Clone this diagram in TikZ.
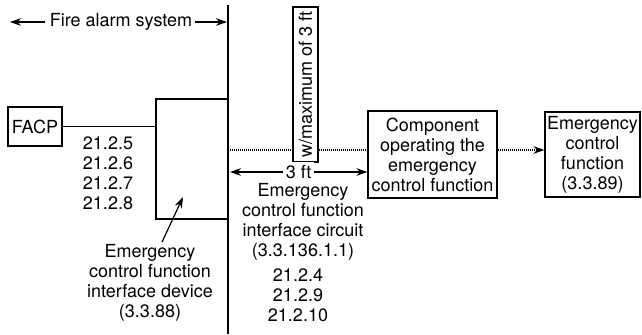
\documentclass[tikz,border=0pt]{standalone}
\usepackage{fontspec}
\setmainfont{TeX Gyre Heros}
\usetikzlibrary{arrows.meta,positioning}

\begin{document}
\begin{tikzpicture}[
    x=0.5pt, y=-0.5pt,
    font=\fontsize{9}{10}\selectfont,
    box/.style={
    	draw,
    	line width=0.6pt,
    	inner sep=0pt, align=center
    }, lbl/.style={
    	inner sep=0pt, align=center
    }, pil/.style={
    	-{Stealth[length=5.5pt,width=3.8pt]},
    	line width=0.6pt
    }, pil2/.style={
    	line width=0.6pt
    }, dots/.style={
    	line width=0.9pt,
    	dash pattern=on 0.5pt off 0.5pt
    }]
    \useasboundingbox (0,0) rectangle (642,334);

    % system boundary
    \coordinate (bound-top) at (228,5);
    \coordinate (bound-bot) at (228,334);
    \draw[pil2] (bound-top) -- (bound-bot);

    \node[lbl] (fas) at (121,22) {Fire alarm system};
    \coordinate (fas-left) at (10,22);
    \coordinate (fas-right) at (227,22);
    \draw[pil] ([xshift=-2pt]fas.west) -- (fas-left);
    \draw[pil] ([xshift=1pt]fas.east) -- (fas-right);

    % fire alarm side
    \node[box, minimum width=27pt, minimum height=19.5pt] (facp) at (35,126.5) {FACP};
    \node[box, minimum width=36pt, minimum height=60pt] (dev) at (192,159) {};
    \draw[pil2, line width=0.9pt] (facp.east) -- (facp.east -| dev.west);

    \node[lbl] (refs-a) at (108,173) {21.2.5\\21.2.6\\21.2.7\\21.2.8};

    \node[lbl] (devtext) at (150,283) {Emergency\\control function\\interface device\\(3.3.88)};
    \coordinate (dev-tip) at (183,197);
    \draw[pil] ([xshift=6pt,yshift=1pt]devtext.north) -- (dev-tip);

    % emergency control side
    \node[box, rotate=90, minimum width=77.5pt, minimum height=12.5pt] (maxbox) at (305.5,84.5) {w/maximum of 3 ft};
    \node[box, minimum width=64.5pt, minimum height=43.5pt] (comp) at (432.5,154.5) {Component\\operating the\\emergency\\control function};
    \node[box, minimum width=47.5pt, minimum height=42.5pt] (ecf) at (592.5,154.5) {Emergency\\control\\function\\(3.3.89)};

    \coordinate (dot-a) at (228,150);
    \draw[dots] (dot-a) -- (dot-a -| maxbox.north);
    \draw[dots] (dot-a -| maxbox.south) -- (dot-a -| comp.west);
    \draw[dots, pil] (dot-a -| comp.east) -- (dot-a -| ecf.west);

    \coordinate (ft-left) at (230,172);
    \draw[pil, {Stealth[length=5.5pt,width=3.8pt]}-{Stealth[length=5.5pt,width=3.8pt]}] (ft-left) -- node[fill=white, inner sep=1.5pt] (ft) {3 ft} (ft-left -| comp.west);

    \node[lbl] (circtext) at (303,222) {Emergency\\control function\\interface circuit\\(3.3.136.1.1)};
    \node[lbl] (refs-b) at (298,295) {21.2.4\\21.2.9\\21.2.10};

\end{tikzpicture}
\end{document}
